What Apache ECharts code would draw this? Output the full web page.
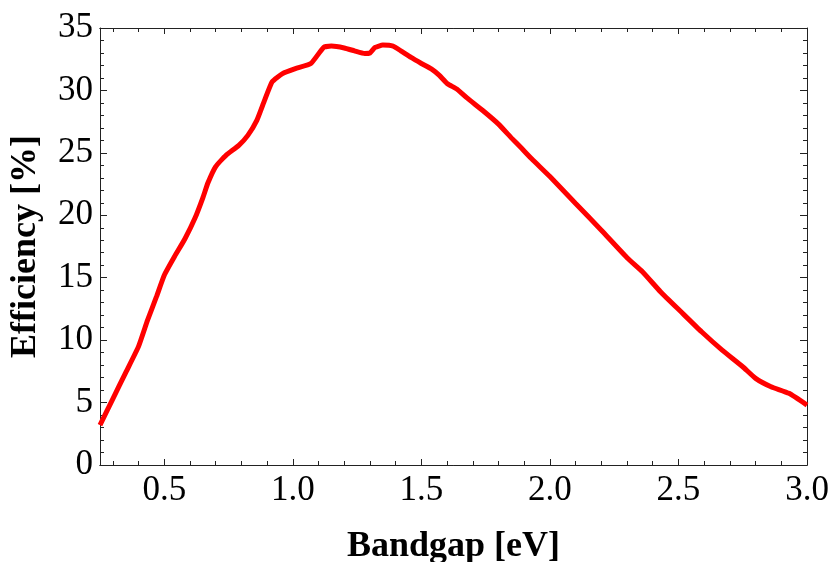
<!DOCTYPE html>
<html>
<head>
<meta charset="utf-8">
<style>
  html, body { margin: 0; padding: 0; background: #fff; }
  #chart { width: 833px; height: 562px; }
</style>
<script src="https://cdn.jsdelivr.net/npm/echarts@6/dist/echarts.min.js"></script>
</head>
<body>
<div id="chart"></div>
<script>
// Bandgap values [eV]
const bandgap = [0.25, 0.30, 0.35, 0.40, 0.435, 0.47, 0.50, 0.54, 0.58, 0.62, 0.65, 0.67, 0.70, 0.74, 0.79, 0.825, 0.86, 0.89, 0.92, 0.96, 1.01, 1.07, 1.12, 1.15, 1.20, 1.24, 1.28, 1.30, 1.32, 1.35, 1.39, 1.42, 1.46, 1.50, 1.54, 1.57, 1.60, 1.64, 1.68, 1.74, 1.80, 1.85, 1.89, 1.93, 2.00, 2.10, 2.20, 2.30, 2.36, 2.43, 2.51, 2.59, 2.67, 2.75, 2.80, 2.86, 2.93, 3.00];
// Efficiency values [%]
const efficiency = [3.2, 5.3, 7.4, 9.5, 11.6, 13.5, 15.2, 16.7, 18.1, 19.8, 21.4, 22.6, 23.9, 24.8, 25.6, 26.4, 27.6, 29.2, 30.7, 31.35, 31.75, 32.15, 33.45, 33.55, 33.4, 33.17, 32.96, 33.0, 33.44, 33.63, 33.55, 33.17, 32.64, 32.16, 31.7, 31.2, 30.56, 30.08, 29.36, 28.37, 27.3, 26.2, 25.36, 24.5, 23.1, 20.95, 18.8, 16.6, 15.48, 13.88, 12.27, 10.67, 9.2, 7.87, 6.94, 6.27, 5.74, 4.8];
// Tick values
const xMajorTicks = [0.5, 1.0, 1.5, 2.0, 2.5, 3.0];
const xMinorTicks = [0.3, 0.4, 0.6, 0.7, 0.8, 0.9, 1.1, 1.2, 1.3, 1.4, 1.6, 1.7, 1.8, 1.9, 2.1, 2.2, 2.3, 2.4, 2.6, 2.7, 2.8, 2.9];
const xRange = [0.25, 3.0];
const yRange = [0, 35];
const yMajor = 5;
const xTitle = 'Bandgap [eV]';
const yTitle = 'Efficiency [%]';

const fontFam = '"Liberation Serif", "DejaVu Serif", serif';
const lineCol = '#222';

function xAx(pos, ticks, tickLen, withLabels) {
  return {
    type: 'value', position: pos, min: xRange[0], max: xRange[1],
    axisLine: { show: true, onZero: false, lineStyle: { color: lineCol, width: 1 } },
    axisTick: { show: true, inside: true, length: tickLen, customValues: ticks, lineStyle: { color: lineCol, width: 1 } },
    axisLabel: withLabels ? {
      show: true, customValues: ticks, formatter: v => Number(v).toFixed(1),
      color: '#000', fontFamily: fontFam, fontSize: 35, margin: 8
    } : { show: false },
    splitLine: { show: false },
    name: withLabels ? xTitle : '',
    nameLocation: 'middle', nameGap: 64,
    nameTextStyle: { color: '#000', fontFamily: fontFam, fontSize: 36, fontWeight: 'bold' }
  };
}

function yAx(pos, withLabels) {
  return {
    type: 'value', position: pos, min: yRange[0], max: yRange[1], interval: yMajor,
    axisLine: { show: true, onZero: false, lineStyle: { color: lineCol, width: 1 } },
    axisTick: { show: true, inside: true, length: 7, lineStyle: { color: lineCol, width: 1 } },
    minorTick: { show: true, splitNumber: 5, length: 4, lineStyle: { color: lineCol, width: 1 } },
    axisLabel: withLabels ? { show: true, color: '#000', fontFamily: fontFam, fontSize: 35, margin: 7 } : { show: false },
    splitLine: { show: false },
    minorSplitLine: { show: false },
    name: withLabels ? yTitle : '',
    nameLocation: 'middle', nameGap: 56, nameRotate: 90,
    nameTextStyle: { color: '#000', fontFamily: fontFam, fontSize: 36, fontWeight: 'bold' }
  };
}

const chart = echarts.init(document.getElementById('chart'), null, { renderer: 'canvas' });
chart.setOption({
  animation: false,
  backgroundColor: '#fff',
  grid: { left: 100, right: 26, top: 28, bottom: 97, containLabel: false, outerBoundsMode: 'none' },
  xAxis: [
    xAx('bottom', xMajorTicks, 6, true),
    xAx('bottom', xMinorTicks, 4, false),
    xAx('top', xMajorTicks, 6, false),
    xAx('top', xMinorTicks, 4, false)
  ],
  yAxis: [
    yAx('left', true),
    yAx('right', false)
  ],
  series: [{
    type: 'line',
    xAxisIndex: 0, yAxisIndex: 0,
    data: bandgap.map((b, i) => [b, efficiency[i]]),
    showSymbol: false,
    smooth: 0.15,
    lineStyle: { color: '#ff0000', width: 5 },
    clip: true
  }]
});
</script>
</body>
</html>
